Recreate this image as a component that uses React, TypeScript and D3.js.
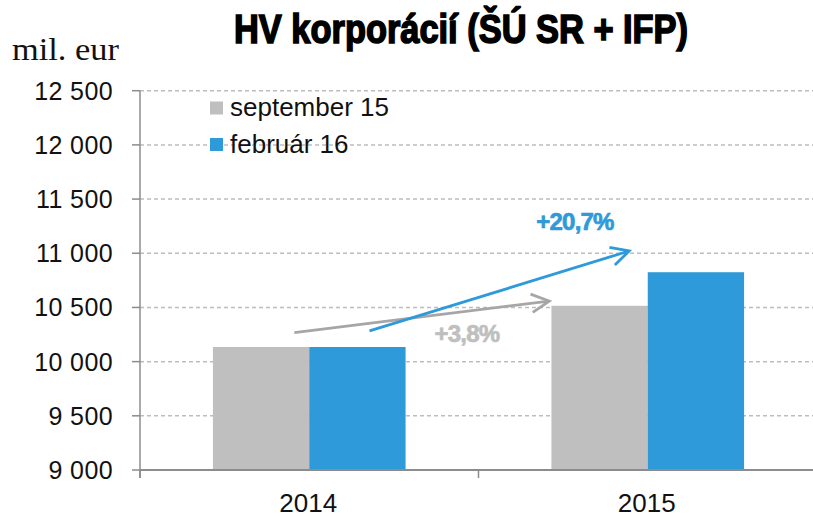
import { useEffect, useRef } from 'react';
import * as d3 from 'd3';

const years = ['2014', '2015'];
const seriesNames = ['september 15', 'február 16'];
const sept15 = [10135, 10515];
const feb16 = [10135, 10825];
const yTicks = [9000, 9500, 10000, 10500, 11000, 11500, 12000, 12500];

// growth arrows, positioned in data space: [year, fraction of band, value]
const arrows = [
  { color: '#a6a6a6', from: ['2014', 0.456, 10267], to: ['2015', 0.209, 10559] },
  { color: '#2e9ad9', from: ['2014', 0.678, 10283], to: ['2015', 0.445, 11021] },
];
const arrowLabels = [
  { text: '+20,7%', color: '#2e9ad9', at: ['2015', 0.285, 11215] },
  { text: '+3,8%', color: '#bfbfbf', at: ['2014', 0.966, 10178] },
];

const colors = ['#bfbfbf', '#2e9ad9'];
const W = 813;
const H = 517;

export default function App() {
  const svgRef = useRef<SVGSVGElement>(null);

  useEffect(() => {
    if (!svgRef.current) return;
    const svg = d3.select(svgRef.current);
    svg.selectAll('*').remove();

    const margin = { top: 90.7, right: 817, bottom: 470, left: 140 };
    const sans = '"Liberation Sans", Arial, sans-serif';

    const x0 = d3.scaleBand<string>()
      .domain(years)
      .range([margin.left, margin.right])
      .padding(0);
    const x1 = d3.scaleBand<string>()
      .domain(seriesNames)
      .range([0, x0.bandwidth()])
      .paddingInner(0)
      .paddingOuter(0.757);
    const y = d3.scaleLinear()
      .domain([9000, 12500])
      .range([margin.bottom, margin.top]);

    const px = (p: (string | number)[]) => (x0(p[0] as string) ?? 0) + (p[1] as number) * x0.bandwidth();
    const py = (p: (string | number)[]) => y(p[2] as number);

    svg.append('rect').attr('width', W).attr('height', H).attr('fill', '#fff');

    // gridlines
    svg.append('g')
      .selectAll('line')
      .data(yTicks.filter(t => t > 9000))
      .join('line')
      .attr('x1', margin.left)
      .attr('x2', W)
      .attr('y1', d => y(d))
      .attr('y2', d => y(d))
      .attr('stroke', '#bdbdbd')
      .attr('stroke-width', 1.5)
      .attr('stroke-dasharray', '4,3');

    // bars
    const values = [sept15, feb16];
    years.forEach((yr, i) => {
      seriesNames.forEach((s, j) => {
        svg.append('rect')
          .attr('x', (x0(yr) ?? 0) + (x1(s) ?? 0))
          .attr('y', y(values[j][i]))
          .attr('width', x1.bandwidth())
          .attr('height', y(9000) - y(values[j][i]))
          .attr('fill', colors[j]);
      });
    });

    // y axis
    svg.append('line')
      .attr('x1', margin.left).attr('x2', margin.left)
      .attr('y1', y(12500)).attr('y2', margin.bottom + 8)
      .attr('stroke', '#8c8c8c').attr('stroke-width', 1.5);
    svg.append('g')
      .selectAll('line')
      .data(yTicks)
      .join('line')
      .attr('x1', margin.left - 8)
      .attr('x2', margin.left)
      .attr('y1', d => y(d))
      .attr('y2', d => y(d))
      .attr('stroke', '#8c8c8c')
      .attr('stroke-width', 1.5);
    svg.append('g')
      .selectAll('text')
      .data(yTicks)
      .join('text')
      .attr('x', 113)
      .attr('y', d => y(d) + 9)
      .attr('text-anchor', 'end')
      .attr('font-family', sans)
      .attr('font-size', 25)
      .attr('letter-spacing', 0.4)
      .attr('fill', '#111')
      .text(d => d3.format(',')(d).replace(',', ' '));

    // x axis
    svg.append('line')
      .attr('x1', margin.left).attr('x2', margin.right)
      .attr('y1', margin.bottom).attr('y2', margin.bottom)
      .attr('stroke', '#8c8c8c').attr('stroke-width', 2);
    svg.append('g')
      .selectAll('line')
      .data([...years.map(d => x0(d) ?? 0), margin.right])
      .join('line')
      .attr('x1', d => d).attr('x2', d => d)
      .attr('y1', margin.bottom).attr('y2', margin.bottom + 8)
      .attr('stroke', '#8c8c8c').attr('stroke-width', 1.5);
    svg.append('g')
      .selectAll('text')
      .data(years)
      .join('text')
      .attr('x', d => (x0(d) ?? 0) + x0.bandwidth() / 2 - 1)
      .attr('y', 512)
      .attr('text-anchor', 'middle')
      .attr('font-family', sans)
      .attr('font-size', 26)
      .attr('fill', '#111')
      .text(d => d);

    // arrows
    arrows.forEach(a => {
      const x1p = px(a.from), y1p = py(a.from);
      const x2p = px(a.to), y2p = py(a.to);
      const ang = Math.atan2(y2p - y1p, x2p - x1p);
      const len = 20, spread = 0.48;
      svg.append('line')
        .attr('x1', x1p).attr('y1', y1p).attr('x2', x2p).attr('y2', y2p)
        .attr('stroke', a.color).attr('stroke-width', 2.8);
      const head = d3.line()([
        [x2p - len * Math.cos(ang - spread), y2p - len * Math.sin(ang - spread)],
        [x2p, y2p],
        [x2p - len * Math.cos(ang + spread), y2p - len * Math.sin(ang + spread)],
      ]);
      svg.append('path')
        .attr('d', head)
        .attr('fill', 'none')
        .attr('stroke', a.color)
        .attr('stroke-width', 2.8)
        .attr('stroke-linejoin', 'miter');
    });

    arrowLabels.forEach(l => {
      svg.append('text')
        .attr('x', px(l.at))
        .attr('y', py(l.at))
        .attr('text-anchor', 'middle')
        .attr('font-family', sans)
        .attr('font-weight', 'bold')
        .attr('font-size', 24)
        .attr('letter-spacing', -0.8)
        .attr('stroke', l.color)
        .attr('stroke-width', 0.7)
        .attr('fill', l.color)
        .text(l.text);
    });

    // legend
    const legend = svg.append('g');
    seriesNames.forEach((s, j) => {
      const cy = 108 + j * 36.5;
      legend.append('rect')
        .attr('x', 210).attr('y', cy - 6.5)
        .attr('width', 13).attr('height', 13)
        .attr('fill', colors[j]);
      legend.append('text')
        .attr('x', 230).attr('y', cy + 8)
        .attr('font-family', sans)
        .attr('font-size', 26)
        .attr('fill', '#111')
        .text(s);
    });

    // titles
    svg.append('text')
      .attr('x', 461)
      .attr('y', 43)
      .attr('text-anchor', 'middle')
      .attr('font-family', sans)
      .attr('font-weight', 'bold')
      .attr('font-size', 40)
      .attr('textLength', 454)
      .attr('lengthAdjust', 'spacingAndGlyphs')
      .attr('fill', '#000')
      .attr('stroke', '#000')
      .attr('stroke-width', 1.6)
      .text('HV korporácií (ŠÚ SR + IFP)');

    svg.append('text')
      .attr('x', 12)
      .attr('y', 60)
      .attr('font-family', '"Liberation Serif", "Times New Roman", serif')
      .attr('font-size', 31)
      .attr('textLength', 107)
      .attr('lengthAdjust', 'spacingAndGlyphs')
      .attr('fill', '#111')
      .text('mil. eur');
  }, []);

  return (
    <svg
      ref={svgRef}
      width={W}
      height={H}
      style={{ position: 'absolute', left: 0, top: 0 }}
    />
  );
}
